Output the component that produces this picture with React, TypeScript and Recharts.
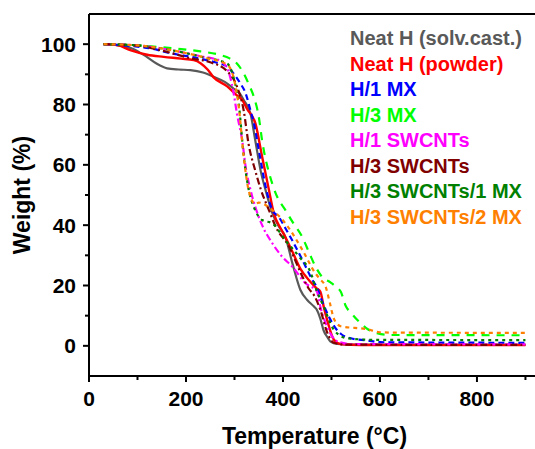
import { LineChart, Line, XAxis, YAxis, Legend, ReferenceLine } from 'recharts';

// TGA curves (temperature °C / weight %)
const tSolvCast = [30, 60, 90, 119, 140, 161, 185, 209, 235, 257, 280, 298, 310, 319, 333, 343, 354, 364, 378, 390, 405, 420, 436, 450, 464, 470, 477, 484, 491, 498, 512, 540, 700, 900];
const wSolvCast = [100, 99.6, 98.5, 95.8, 93.5, 92, 91.6, 91.4, 90.6, 89.2, 87.5, 85.3, 83.8, 81.5, 77, 68, 58, 51.7, 44, 40, 36, 27, 18.5, 15.2, 13, 11.9, 9, 5, 3, 1.4, 0.6, 0.4, 0.3, 0.3];

const tPowder = [30, 60, 85, 120, 154, 190, 216, 230, 245, 257, 285, 305, 316, 326, 343, 357, 371, 381, 395, 405, 420, 436, 455, 470, 477, 484, 491, 505, 519, 560, 900];
const wPowder = [100, 99.6, 98, 96.5, 95.8, 95.2, 94.7, 93.7, 91.5, 89, 86, 83, 81.5, 78.5, 73.8, 62.7, 51.7, 44, 39, 36, 31, 25.5, 21.5, 19, 18, 13, 8.6, 2, 0.6, 0.3, 0.3];

const tH1MX = [30, 80, 130, 168, 220, 260, 285, 298, 312, 323, 333, 340, 350, 364, 378, 391, 405, 419, 440, 460, 471, 477, 488, 498, 510, 519, 540, 574, 600, 900];
const wH1MX = [100, 99.5, 98.5, 97, 95.5, 94, 92.5, 90.3, 87, 83.7, 78, 73.8, 65, 53, 45, 42.8, 39, 35, 28.5, 22, 19, 16.3, 12, 8.6, 5.5, 4, 2.5, 1.8, 1.2, 1];

const tH3MX = [30, 100, 175, 230, 271, 290, 305, 319, 330, 340, 350, 357, 364, 371, 388, 405, 420, 440, 455, 467, 480, 498, 510, 519, 530, 540, 560, 575, 594, 620, 900];
const wH3MX = [100, 99.6, 98.6, 97.6, 96.4, 95.3, 93.6, 90.3, 86.5, 82.5, 76, 68, 62, 57.5, 49.4, 45, 41, 36, 30.5, 26.3, 23, 21, 19.5, 18, 13, 11, 7.5, 5.5, 4.2, 3.6, 3.5];

const tH1SW = [30, 100, 170, 230, 270, 285, 298, 305, 316, 323, 333, 343, 357, 378, 398, 419, 446, 470, 477, 494, 512, 540, 900];
const wH1SW = [100, 99.6, 98, 96, 94.5, 92, 84, 77, 68, 59.4, 51.7, 46, 40, 34, 29.6, 26.3, 20.8, 18, 13, 5.3, 1.5, 0.6, 0.5];

const tH3SW = [30, 100, 160, 209, 250, 285, 305, 319, 329, 343, 354, 371, 385, 412, 440, 453, 465, 477, 491, 505, 530, 900];
const wH3SW = [100, 99.5, 97.5, 95.3, 94, 91, 86, 78, 67, 58, 52, 45, 39.5, 33, 23, 19, 16.5, 12, 4.5, 1, 0.4, 0.3];

const tH3SW1MX = [30, 100, 189, 240, 285, 298, 309, 319, 329, 340, 357, 378, 405, 433, 460, 464, 484, 505, 532, 588, 900];
const wH3SW1MX = [100, 99.6, 97.4, 95.5, 93.6, 89, 80, 63, 52, 46, 41.7, 40.6, 35, 29.6, 23, 20.8, 13, 5.3, 2.5, 2, 1.9];

const tH3SW2MX = [30, 100, 189, 240, 285, 298, 309, 319, 329, 343, 350, 378, 405, 440, 467, 477, 488, 497, 505, 519, 574, 600, 622, 900];
const wH3SW2MX = [100, 99.6, 97.4, 95.5, 93.2, 89, 79, 62.7, 51.7, 47, 47.5, 45, 40.6, 31.8, 24, 22, 19.6, 14, 9, 6.5, 5.5, 4.5, 4.4, 4.3];

const xTicks = [0, 100, 200, 300, 400, 500, 600, 700, 800, 900];
const yTicks = [0, 10, 20, 30, 40, 50, 60, 70, 80, 90, 100];

const FONT = '"Liberation Sans", Arial, sans-serif';

const series = [
    { name: 'Neat H (solv.cast.)', color: '#595959', dash: undefined, width: 2.2, t: tSolvCast, w: wSolvCast },
    { name: 'Neat H (powder)', color: '#ff0000', dash: undefined, width: 2.4, t: tPowder, w: wPowder },
    { name: 'H/1 MX', color: '#0000ff', dash: '6 4', width: 2.2, t: tH1MX, w: wH1MX },
    { name: 'H/3 MX', color: '#00ff00', dash: '8 7', width: 2.2, t: tH3MX, w: wH3MX },
    { name: 'H/1 SWCNTs', color: '#ff00ff', dash: '7 3 2 3', width: 2.2, t: tH1SW, w: wH1SW },
    { name: 'H/3 SWCNTs', color: '#800000', dash: '7 3 2 3', width: 2.2, t: tH3SW, w: wH3SW },
    { name: 'H/3 SWCNTs/1 MX', color: '#008000', dash: '3 4', width: 2.2, t: tH3SW1MX, w: wH3SW1MX },
    { name: 'H/3 SWCNTs/2 MX', color: '#ff8000', dash: '4 4', width: 2.2, t: tH3SW2MX, w: wH3SW2MX },
];

function XTick({ x, y, payload }: any) {
    const v = payload.value;
    const major = v % 200 === 0;
    return (
        <g>
            <line x1={x} y1={y} x2={x} y2={y + (major ? 6 : 4)} stroke="#000" strokeWidth={2} />
            {major && (
                <text x={x} y={y + 30} textAnchor="middle" fontFamily={FONT} fontWeight="bold" fontSize={21} fill="#000">
                    {v}
                </text>
            )}
        </g>
    );
}

function YTick({ x, y, payload }: any) {
    const v = payload.value;
    const major = v % 20 === 0;
    return (
        <g>
            <line x1={x} y1={y} x2={x - (major ? 6 : 4)} y2={y} stroke="#000" strokeWidth={2} />
            {major && (
                <text x={x - 13} y={y + 7.5} textAnchor="end" fontFamily={FONT} fontWeight="bold" fontSize={21} fill="#000">
                    {v}
                </text>
            )}
        </g>
    );
}

function LegendBox() {
    return (
        <div style={{ fontFamily: FONT, fontWeight: 'bold', fontSize: 20, textAlign: 'left' }}>
            {series.map((s) => (
                <div key={s.name} style={{ color: s.color, lineHeight: '25.5px', whiteSpace: 'nowrap' }}>
                    {s.name}
                </div>
            ))}
        </div>
    );
}

export default function App() {
    return (
        <div style={{ position: 'absolute', left: 0, top: 0, width: 535, height: 449, overflow: 'hidden', background: '#fff' }}>
            <LineChart width={540} height={449} margin={{ top: 14, right: 0, left: 0, bottom: 0 }}>
                <XAxis
                    dataKey="t"
                    type="number"
                    domain={[0, 930]}
                    ticks={xTicks}
                    interval={0}
                    tick={<XTick />}
                    tickLine={false}
                    tickSize={0}
                    tickMargin={0}
                    height={73}
                    axisLine={{ stroke: '#000', strokeWidth: 2 }}
                    allowDataOverflow
                    label={{
                        value: 'Temperature (°C)',
                        position: 'insideBottom',
                        offset: 5,
                        style: { fontFamily: FONT, fontWeight: 'bold', fontSize: 23, fill: '#000' },
                    }}
                />
                <YAxis
                    type="number"
                    domain={[-10, 110]}
                    ticks={yTicks}
                    interval={0}
                    tick={<YTick />}
                    tickLine={false}
                    tickSize={0}
                    tickMargin={0}
                    width={89}
                    axisLine={{ stroke: '#000', strokeWidth: 2 }}
                    allowDataOverflow
                    label={{
                        value: 'Weight (%)',
                        angle: -90,
                        position: 'insideLeft',
                        offset: 22,
                        style: { fontFamily: FONT, fontWeight: 'bold', fontSize: 23, fill: '#000', textAnchor: 'middle' },
                    }}
                />
                <ReferenceLine y={110} stroke="#000" strokeWidth={2} />
                <Legend
                    layout="vertical"
                    align="center"
                    verticalAlign="middle"
                    content={<LegendBox />}
                    wrapperStyle={{ left: 350, top: 26, width: 200, height: 210 }}
                />
                {series.map((s) => (
                    <Line
                        key={s.name}
                        name={s.name}
                        data={s.t.map((t, i) => ({ t, w: s.w[i] }))}
                        dataKey="w"
                        type="monotone"
                        stroke={s.color}
                        strokeWidth={s.width}
                        strokeDasharray={s.dash}
                        dot={false}
                        activeDot={false}
                        isAnimationActive={false}
                    />
                ))}
            </LineChart>
        </div>
    );
}
